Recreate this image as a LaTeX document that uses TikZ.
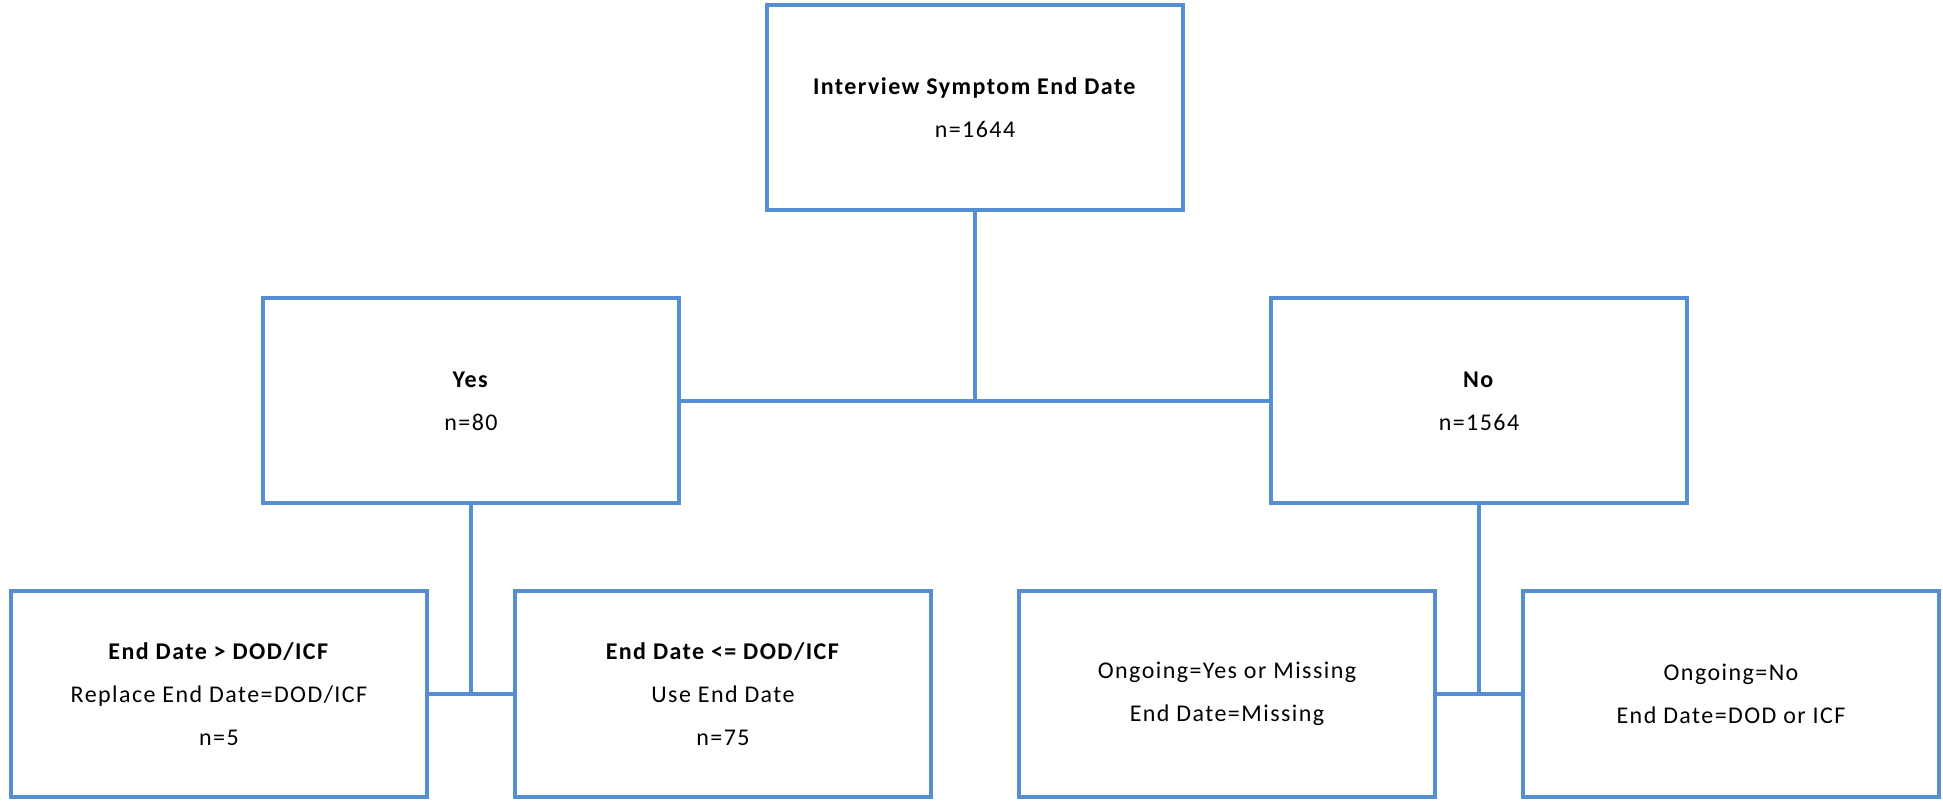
\documentclass[tikz,border=0pt]{standalone}
\usepackage{fontspec}
\setmainfont{Carlito}[LetterSpace=6]
\usepackage{xcolor}
\usepackage{tikz}
\usetikzlibrary{positioning}
\definecolor{boxblue}{RGB}{85,142,213}

\begin{document}
\begin{tikzpicture}[x=0.5pt, y=0.5pt,
box/.style={rectangle, draw=boxblue, line width=2pt, outer sep=0pt, align=center, minimum width=208pt, minimum height=102.5pt, font=\fontsize{12}{21.5}\selectfont},
link/.style={draw=boxblue, line width=2pt}
]
\useasboundingbox (0,0) rectangle (1943,-801);

% Top
\node[box] (interview) at (975,-108) {\textbf{Interview Symptom End Date}\\n=1644};

% Yes / No
\node[box, below left=44pt and 44pt of interview] (yes) {\textbf{Yes}\\n=80};
\node[box, below right=44pt and 44pt of interview] (no) {\textbf{No}\\n=1564};

% Yes branch
\node[box, below left=44pt and 22pt of yes.south] (after_dod) {\textbf{End Date > DOD/ICF}\\Replace End Date=DOD/ICF\\n=5};
\node[box, below right=44pt and 22pt of yes.south] (before_dod) {\textbf{End Date <= DOD/ICF}\\Use End Date\\n=75};

% No branch
\node[box, below left=44pt and 22pt of no.south] (ongoing_yes) {Ongoing=Yes or Missing\\End Date=Missing};
\node[box, below right=44pt and 22pt of no.south] (ongoing_no) {Ongoing=No\\End Date=DOD or ICF};

% Connections
\draw[link] (interview.south) -- (interview.south |- yes.east);
\draw[link] (yes.east) -- (no.west);
\draw[link] (yes.south) -- (yes.south |- after_dod.east);
\draw[link] (after_dod.east) -- (before_dod.west);
\draw[link] (no.south) -- (no.south |- ongoing_yes.east);
\draw[link] (ongoing_yes.east) -- (ongoing_no.west);

\end{tikzpicture}
\end{document}
